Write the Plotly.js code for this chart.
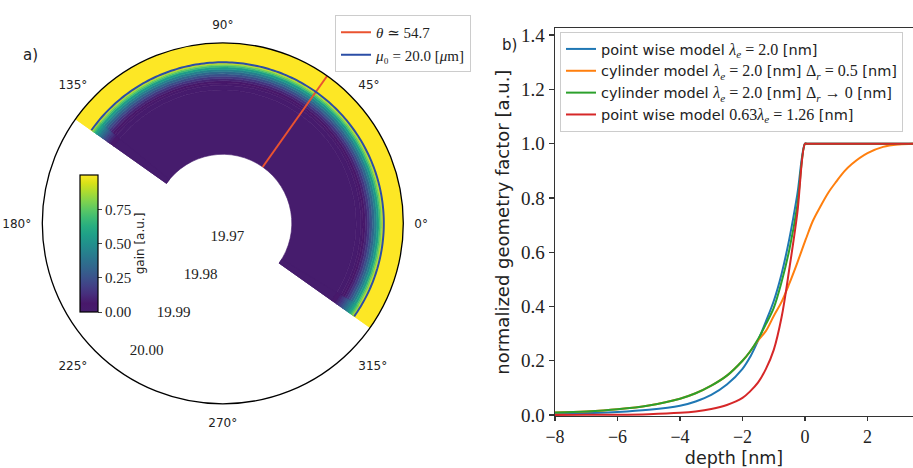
<!DOCTYPE html>
<html><head><meta charset="utf-8">
<script src="https://cdn.plot.ly/plotly-3.0.1.min.js"></script>
<style>html,body{margin:0;padding:0;background:#fff}#chart{width:913px;height:468px}</style>
</head><body><div id="chart"></div>
<script>
// ---------- data: panel a) (polar gain map) ----------
const gainRadius = [19.980, 19.9940, 19.9950, 19.9955, 19.9960, 19.9965, 19.9970, 19.9975, 19.9980, 19.9985, 19.9990, 19.9993, 19.9996, 19.9998, 20.0000, 20.00424];
const gainValue     = [0.0, 0.01, 0.03, 0.06, 0.10, 0.16, 0.24, 0.33, 0.43, 0.55, 0.68, 0.78, 0.88, 0.95, 1.0];
const gainValueEdge = [0.0, 0.05, 0.10, 0.15, 0.20, 0.26, 0.33, 0.40, 0.48, 0.57, 0.67, 0.76, 0.85, 0.93, 1.0];
const radialRange = [19.965, 20.00424];
const thetaMagic = 54.7;      // red line angle
const mu0 = 20.0;             // blue circle radius
const sectorStart = -35.3, sectorEnd = 144.7, edgeWidth = 4;
const radialTicks = [19.97, 19.98, 19.99, 20.00];
const radialTickText = ['19.97', '19.98', '19.99', '20.00'];
const cbTicks = [0, 0.25, 0.5, 0.75];
const cbTickText = ['0.00', '0.25', '0.50', '0.75'];

// ---------- data: panel b) (geometry factor vs depth) ----------
const depth = [-8,-7,-6,-5,-4,-3.5,-3,-2.5,-2,-1.75,-1.5,-1.25,-1,-0.75,-0.5,-0.25,0,0.05,0.25,0.5,0.75,1,1.25,1.5,2,2.5,3,3.5];
const pointWise    = [0.004,0.007,0.011,0.019,0.034,0.05,0.074,0.112,0.17,0.215,0.275,0.345,0.42,0.52,0.65,0.81,1.0,1,1,1,1,1,1,1,1,1,1,1];
const cylinder05   = [0.009,0.013,0.021,0.035,0.06,0.08,0.108,0.145,0.20,0.235,0.275,0.31,0.365,0.417,0.485,0.56,0.64,0.655,0.715,0.77,0.82,0.86,0.897,0.925,0.965,0.988,0.997,1.0];
const cylinder0    = [0.009,0.013,0.021,0.035,0.06,0.08,0.108,0.145,0.20,0.235,0.28,0.335,0.395,0.49,0.61,0.77,1.0,1,1,1,1,1,1,1,1,1,1,1];
const pointWise126 = [0.0002,0.0005,0.001,0.003,0.008,0.013,0.022,0.037,0.063,0.088,0.12,0.17,0.24,0.36,0.54,0.74,1.0,1,1,1,1,1,1,1,1,1,1,1];

const SERIF = "'Liberation Serif', 'DejaVu Serif', serif";
const SANS = "'DejaVu Sans', sans-serif";
const m = s => `<span style="font-family:'Liberation Serif';font-size:16px">${s}</span>`;

const viridis = [[0,'#461c6d'],[0.0627,'#48186a'],[0.1255,'#472d7b'],[0.1882,'#424086'],[0.2510,'#3b528b'],[0.3137,'#33638d'],[0.3765,'#2c728e'],[0.4392,'#26828e'],[0.5020,'#21918c'],[0.5647,'#1fa088'],[0.6275,'#28ae80'],[0.6902,'#3fbc73'],[0.7529,'#5ec962'],[0.8157,'#84d44b'],[0.8784,'#addc30'],[0.9412,'#d8e219'],[1,'#fde725']];

// ---------- polar traces ----------
const bandBase = gainRadius.slice(0, -1);
const bandLen = bandBase.map((r, i) => gainRadius[i + 1] - r);
const sectorMid = (sectorStart + sectorEnd) / 2;
const sectorWidth = sectorEnd - sectorStart;

const heat = {
  type: 'barpolar', subplot: 'polar',
  base: bandBase, r: bandLen,
  theta: bandBase.map(() => sectorMid),
  width: bandBase.map(() => sectorWidth),
  marker: {
    color: gainValue, colorscale: viridis, cmin: 0, cmax: 1,
    line: {width: 0.6, color: gainValue, colorscale: viridis, cmin: 0, cmax: 1},
    colorbar: {
      x: 80 / 913, xanchor: 'left', xpad: 0, ypad: 0,
      y: 1 - 243.5 / 468, yanchor: 'middle',
      len: 137, lenmode: 'pixels', thickness: 18, thicknessmode: 'pixels',
      outlinewidth: 1.2, outlinecolor: '#000',
      tickvals: cbTicks, ticktext: cbTickText, ticks: 'outside', ticklen: 4,
      tickfont: {family: SERIF, size: 15, color: '#222'},
      title: {text: 'gain [a.u.]', side: 'right', font: {family: SANS, size: 12, color: '#222'}}
    }
  },
  showlegend: false, hoverinfo: 'skip'
};

const edgeTheta = [sectorStart + edgeWidth / 2, sectorEnd - edgeWidth / 2];
const heatEdge = {
  type: 'barpolar', subplot: 'polar',
  base: edgeTheta.flatMap(() => bandBase), r: edgeTheta.flatMap(() => bandLen),
  theta: edgeTheta.flatMap(t => bandBase.map(() => t)),
  width: edgeTheta.flatMap(() => bandBase.map(() => edgeWidth)),
  marker: {
    color: edgeTheta.flatMap(() => gainValueEdge), colorscale: viridis, cmin: 0, cmax: 1, showscale: false,
    line: {width: 0.6, color: edgeTheta.flatMap(() => gainValueEdge), colorscale: viridis, cmin: 0, cmax: 1}
  },
  showlegend: false, hoverinfo: 'skip'
};

const redLine = {
  type: 'scatterpolar', subplot: 'polar', mode: 'lines',
  r: [gainRadius[0], gainRadius[gainRadius.length - 1]], theta: [thetaMagic, thetaMagic],
  line: {color: '#ea5330', width: 2},
  name: '<i>θ</i> ≃ 54.7', legend: 'legend'
};

const arcTheta = [];
for (let t = sectorStart; t <= sectorEnd + 1e-9; t += 1) arcTheta.push(t);
const blueCircle = {
  type: 'scatterpolar', subplot: 'polar', mode: 'lines',
  r: arcTheta.map(() => mu0), theta: arcTheta,
  line: {color: '#2b4ea6', width: 2},
  name: '<i>μ</i>₀ = 20.0 [<i>μ</i>m]', legend: 'legend'
};

const dummy2 = {
  type: 'scatterpolar', subplot: 'polar2', mode: 'markers',
  r: [20.0], theta: [0], marker: {opacity: 0}, showlegend: false, hoverinfo: 'skip'
};

// ---------- cartesian traces ----------
const mk = (y, color, name) => ({
  type: 'scatter', x: depth, y: y, mode: 'lines', name: name, legend: 'legend2',
  line: {color: color, width: 2, shape: 'spline', smoothing: 1}
});
const traces = [
  heat, heatEdge, redLine, blueCircle, dummy2,
  mk(pointWise, '#1f77b4', 'point wise model ' + m('<i>λ<sub>e</sub></i> = 2.0') + ' [nm]'),
  mk(cylinder05, '#ff7f0e', 'cylinder model ' + m('<i>λ<sub>e</sub></i> = 2.0') + ' [nm] ' + m('Δ<sub><i>r</i></sub> = 0.5') + ' [nm]'),
  mk(cylinder0, '#2ca02c', 'cylinder model ' + m('<i>λ<sub>e</sub></i> = 2.0') + ' [nm] ' + m('Δ<sub><i>r</i></sub> → 0') + ' [nm]'),
  mk(pointWise126, '#d62728', 'point wise model ' + m('0.63<i>λ<sub>e</sub></i> = 1.26') + ' [nm]')
];

const polDomain = {x: [42.3 / 913, 403.3 / 913], y: [1 - 403.8 / 468, 1 - 42.8 / 468]};
const lblDomain = {x: [(42.3 - 17) / 913, (403.3 - 17) / 913], y: [1 - 401.8 / 468, 1 - 40.8 / 468]};

const layout = {
  width: 913, height: 468,
  margin: {l: 0, r: 0, t: 0, b: 0, pad: 0},
  paper_bgcolor: '#fff', plot_bgcolor: '#fff',
  font: {family: SANS, color: '#222'},
  polar: {
    domain: polDomain, bgcolor: '#fff', barmode: 'overlay',
    radialaxis: {range: radialRange, visible: false},
    angularaxis: {
      rotation: 0, direction: 'counterclockwise', dtick: 45,
      showgrid: false, showline: true, linecolor: '#000', linewidth: 1.3,
      ticks: 'outside', ticklen: 8, tickcolor: 'rgba(0,0,0,0)',
      tickfont: {family: SANS, size: 12, color: '#222'}
    }
  },
  polar2: {
    domain: lblDomain, bgcolor: 'rgba(0,0,0,0)',
    radialaxis: {
      range: [19.96846, 20.00714], angle: 234.7, side: 'counterclockwise', tickangle: -125.3,
      tickvals: radialTicks, ticktext: radialTickText,
      showline: false, showgrid: false, ticks: '',
      tickfont: {family: SERIF, size: 15, color: '#222'}
    },
    angularaxis: {visible: false}
  },
  xaxis: {
    domain: [555 / 913, 1], range: [-8, 3.456],
    dtick: 2, tick0: -8, ticks: 'outside', ticklen: 4, tickwidth: 1.2, tickcolor: '#333',
    showline: true, mirror: true, linecolor: '#333', linewidth: 1.4,
    showgrid: false, zeroline: false,
    tickfont: {family: SERIF, size: 18, color: '#222'},
    title: {text: 'depth [nm]', font: {family: SANS, size: 17.5, color: '#222'}, standoff: 5}
  },
  yaxis: {
    domain: [1 - 416 / 468, 1 - 28.3 / 468], range: [-0.0037, 1.425],
    dtick: 0.2, tick0: 0, tickformat: '.1f', ticks: 'outside', ticklen: 5, tickwidth: 1.2, tickcolor: '#333',
    showline: true, mirror: false, linecolor: '#333', linewidth: 1.4,
    showgrid: false, zeroline: false,
    tickfont: {family: SERIF, size: 19, color: '#222'},
    title: {text: 'normalized geometry factor [a.u.]', font: {family: SANS, size: 18, color: '#222'}, standoff: 6}
  },
  legend: {
    x: 335 / 913, y: 1 - 15 / 468, xanchor: 'left', yanchor: 'top',
    bgcolor: '#fff', bordercolor: '#ccc', borderwidth: 1,
    font: {family: SERIF, size: 15, color: '#222'}, itemwidth: 30, tracegroupgap: 0
  },
  legend2: {
    x: 560 / 913, y: 1 - 32 / 468, xanchor: 'left', yanchor: 'top',
    bgcolor: 'rgba(255,255,255,0.85)', bordercolor: '#ccc', borderwidth: 1,
    font: {family: SANS, size: 14.5, color: '#222'}, itemwidth: 30, tracegroupgap: 0
  },
  annotations: [
    {text: 'a)', x: 30 / 913, y: 1 - 55 / 468, xref: 'paper', yref: 'paper', showarrow: false,
     xanchor: 'center', yanchor: 'middle', font: {family: SANS, size: 15, color: '#222'}},
    {text: 'b)', x: 509 / 913, y: 1 - 45 / 468, xref: 'paper', yref: 'paper', showarrow: false,
     xanchor: 'center', yanchor: 'middle', font: {family: SANS, size: 15, color: '#222'}}
  ],
  showlegend: true
};

Plotly.newPlot('chart', traces, layout, {displayModeBar: false, staticPlot: true});
</script>
</body></html>
